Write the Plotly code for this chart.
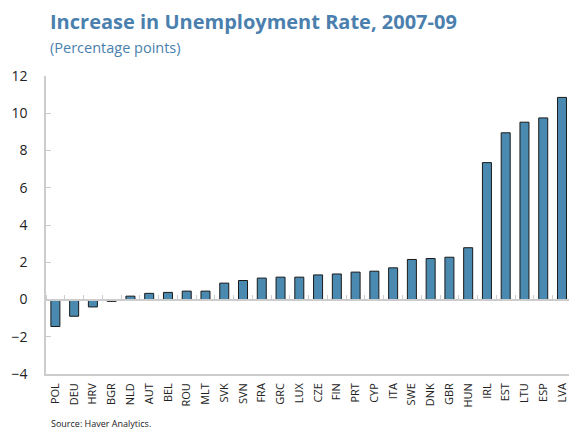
import plotly.graph_objects as go

countries = ["POL", "DEU", "HRV", "BGR", "NLD", "AUT", "BEL", "ROU", "MLT", "SVK",
             "SVN", "FRA", "GRC", "LUX", "CZE", "FIN", "PRT", "CYP", "ITA", "SWE",
             "DNK", "GBR", "HUN", "IRL", "EST", "LTU", "ESP", "LVA"]
increase = [-1.45, -0.9, -0.4, -0.1, 0.18, 0.33, 0.38, 0.45, 0.45, 0.88,
            1.02, 1.15, 1.2, 1.2, 1.32, 1.37, 1.47, 1.52, 1.7, 2.15,
            2.2, 2.27, 2.78, 7.35, 8.95, 9.52, 9.75, 10.85]
y_ticks = [-4, -2, 0, 2, 4, 6, 8, 10, 12]

# the page body adds an 8px offset, so the figure is sized to fit the window
W, H = 569, 423
m_l, m_r, m_t, m_b = 38, 0, 68, 57
y_min, y_max = -4, 12
x_range = [-0.5, len(countries) - 0.2]

fig = go.Figure()
fig.add_trace(go.Bar(
    x=countries, y=increase,
    marker=dict(color="#4a8ab0", line=dict(color="#1a1a1a", width=1)),
    width=0.48, hoverinfo="x+y",
))
# invisible helper trace so the zero-line tick axis renders
fig.add_trace(go.Scatter(x=countries, y=[0] * len(countries), xaxis="x2",
                         mode="markers", marker=dict(opacity=0), hoverinfo="skip",
                         showlegend=False))

zero_pos = (0 - y_min) / (y_max - y_min)

fig.update_layout(
    width=W, height=H,
    margin=dict(l=m_l, r=m_r, t=m_t, b=m_b, autoexpand=False),
    paper_bgcolor="white", plot_bgcolor="white",
    showlegend=False,
    font=dict(family="Open Sans", color="#222222"),
    xaxis=dict(
        type="category", categoryorder="array", categoryarray=countries,
        range=x_range,
        showline=True, linecolor="#cccccc", linewidth=1.5,
        showgrid=False, zeroline=False,
        ticks="outside", ticklen=3, tickcolor="rgba(0,0,0,0)",
        tickangle=-90, tickfont=dict(size=11, family="Open Sans", color="#222222"),
    ),
    xaxis2=dict(
        type="category", categoryorder="array", categoryarray=countries,
        range=x_range,
        overlaying="x", anchor="free", side="top", position=zero_pos,
        showline=True, linecolor="#cccccc", linewidth=1.5,
        showticklabels=False, showgrid=False, zeroline=False,
        ticks="outside", tickson="boundaries", ticklen=4, tickcolor="#cccccc",
    ),
    yaxis=dict(
        range=[y_min, y_max], tickvals=y_ticks,
        showline=True, linecolor="#cccccc", linewidth=1.5,
        showgrid=False, zeroline=False,
        ticks="inside", ticklen=5, tickcolor="#cccccc",
        tickfont=dict(size=14, family="Open Sans", color="#222222"),
        ticklabelstandoff=14,
    ),
    bargap=0.5,
)

fig.add_annotation(text="<b>Increase in Unemployment Rate, 2007-09</b>",
                   xref="paper", yref="paper", x=0, y=1,
                   xanchor="left", yanchor="bottom", yshift=39, xshift=2,
                   showarrow=False, font=dict(size=20, color="#4a7fae", family="Open Sans"))
fig.add_annotation(text="(Percentage points)",
                   xref="paper", yref="paper", x=0, y=1,
                   xanchor="left", yanchor="bottom", yshift=17, xshift=2,
                   showarrow=False, font=dict(size=14.5, color="#4a7fae", family="Open Sans"))
fig.add_annotation(text="Source: Haver Analytics.",
                   xref="paper", yref="paper", x=0, y=0,
                   xanchor="left", yanchor="top", yshift=-41, xshift=3,
                   showarrow=False, font=dict(size=9, color="#222222", family="Open Sans"))

fig.write_html("out.html")
